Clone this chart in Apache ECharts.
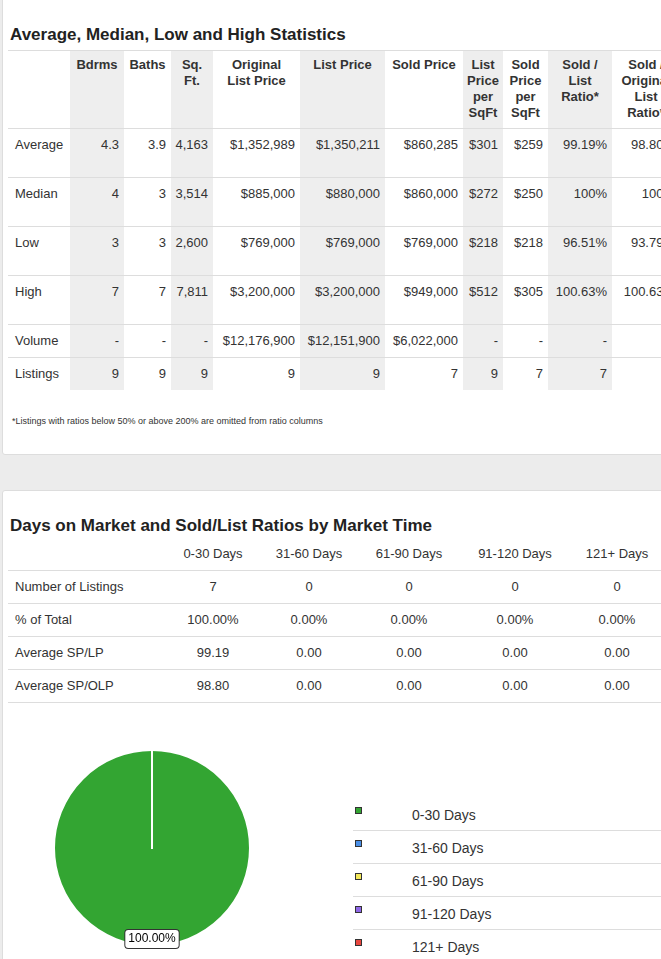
<!DOCTYPE html>
<html><head><meta charset="utf-8">
<script src="https://cdn.jsdelivr.net/npm/echarts@6/dist/echarts.min.js"></script>
<style>
html,body{margin:0;padding:0;width:661px;height:959px;overflow:hidden;background:#ececec;font-family:"Liberation Sans",Arial,sans-serif;color:#333}
.card{position:absolute;left:2px;width:680px;background:#fff;border:1px solid #ddd;border-radius:3px}
.abs{position:absolute;white-space:nowrap;font-size:13px}
.title{position:absolute;left:10px;font-size:17px;font-weight:bold;color:#222}
.hl{position:absolute;left:8px;width:680px;height:1px;background:#ddd}
.shade{position:absolute;background:#eeeeee}
.hdr{font-weight:bold;text-align:center;line-height:16px}
</style></head><body>
<div class="card" style="top:-4px;height:457px"></div>
<div class="card" style="top:490px;height:480px"></div>
<div id="t1"></div>
<div id="t2"></div>
<div id="pie" style="position:absolute;left:0;top:730px;width:310px;height:229px"></div>
<div id="leg"></div>
<script>
const statCols=["Bdrms","Baths","Sq.<br>Ft.","Original<br>List Price","List Price","Sold Price","List<br>Price<br>per<br>SqFt","Sold<br>Price<br>per<br>SqFt","Sold /<br>List<br>Ratio*","Sold /<br>Original<br>List<br>Ratio*"];
const statRows=["Average","Median","Low","High","Volume","Listings"];
const statAverage=["4.3","3.9","4,163","$1,352,989","$1,350,211","$860,285","$301","$259","99.19%","98.80%"];
const statMedian=["4","3","3,514","$885,000","$880,000","$860,000","$272","$250","100%","100%"];
const statLow=["3","3","2,600","$769,000","$769,000","$769,000","$218","$218","96.51%","93.79%"];
const statHigh=["7","7","7,811","$3,200,000","$3,200,000","$949,000","$512","$305","100.63%","100.63%"];
const statVolume=["-","-","-","$12,176,900","$12,151,900","$6,022,000","-","-","-",""];
const statListings=["9","9","9","9","9","7","9","7","7",""];
const domCats=["0-30 Days","31-60 Days","61-90 Days","91-120 Days","121+ Days"];
const domRows=["Number of Listings","% of Total","Average SP/LP","Average SP/OLP"];
const domListings=[7,0,0,0,0];
const domPct=["100.00%","0.00%","0.00%","0.00%","0.00%"];
const domSPLP=["99.19","0.00","0.00","0.00","0.00"];
const domSPOLP=["98.80","0.00","0.00","0.00","0.00"];
const pieColors=["#33a532","#4a8fe7","#f3e85a","#8f67e8","#e8473f"];

let h='';
h+='<div class="title" style="top:25px">Average, Median, Low and High Statistics</div>';
h+='<div class="hl" style="top:50px"></div>';
const edges=[70,124,171,213,300,385,463,503,548,612,680];
for(let i=0;i<10;i+=2){h+=`<div class="shade" style="left:${edges[i]}px;width:${edges[i+1]-edges[i]}px;top:51px;height:339px"></div>`;}
for(let i=0;i<10;i++){h+=`<div class="abs hdr" style="left:${edges[i]}px;width:${edges[i+1]-edges[i]}px;top:57px">${statCols[i]}</div>`;}
const rowsData=[statAverage,statMedian,statLow,statHigh,statVolume,statListings];
const rowTops=[128,177,226,275,324,357,390];
for(let r=0;r<6;r++){
 h+=`<div class="hl" style="top:${rowTops[r]}px"></div>`;
 const cy=r<4?rowTops[r]+9:(rowTops[r]+rowTops[r+1])/2-8;
 h+=`<div class="abs" style="left:15px;top:${cy}px">${statRows[r]}</div>`;
 for(let i=0;i<10;i++){h+=`<div class="abs" style="left:${edges[i]}px;width:${edges[i+1]-edges[i]-5}px;text-align:right;top:${cy}px">${rowsData[r][i]}</div>`;}
}
h+='<div class="abs" style="left:12px;top:416px;font-size:9px">*Listings with ratios below 50% or above 200% are omitted from ratio columns</div>';
document.getElementById('t1').innerHTML=h;

let g='';
g+='<div class="title" style="top:516px">Days on Market and Sold/List Ratios by Market Time</div>';
const cx=[213,309,409,515,617];
domCats.forEach((c,i)=>{g+=`<div class="abs" style="left:${cx[i]-50}px;width:100px;text-align:center;top:546px">${c}</div>`;});
const d2=[domListings,domPct,domSPLP,domSPOLP];
const tops2=[570,603,636,669,702];
for(let r=0;r<4;r++){
 g+=`<div class="hl" style="top:${tops2[r]}px"></div>`;
 g+=`<div class="abs" style="left:15px;top:${tops2[r]+9}px">${domRows[r]}</div>`;
 d2[r].forEach((v,i)=>{g+=`<div class="abs" style="left:${cx[i]-50}px;width:100px;text-align:center;top:${tops2[r]+9}px">${v}</div>`;});
}
g+=`<div class="hl" style="top:702px"></div>`;
document.getElementById('t2').innerHTML=g;

let l='';
domCats.forEach((c,i)=>{
 const y=812+i*33;
 l+=`<div style="position:absolute;left:355px;top:${y-5}px;width:5px;height:5px;background:${pieColors[i]};border:1px solid #333"></div>`;
 l+=`<div class="abs" style="left:412px;top:${y-5}px;font-size:14px">${c}</div>`;
 if(i<4) l+=`<div style="position:absolute;left:353px;top:${y+18}px;width:320px;height:1px;background:#ddd"></div>`;
});
document.getElementById('leg').innerHTML=l;

const chart=echarts.init(document.getElementById('pie'));
const pd=domCats.map((c,i)=>({name:c,value:domListings[i],itemStyle:{color:pieColors[i]}}));
chart.setOption({animation:false,series:[
 {type:'pie',center:[152,118],radius:[0,98],startAngle:90,label:{show:false},labelLine:{show:false},
  itemStyle:{borderColor:'#fff',borderWidth:2},data:pd,silent:true},
 {type:'pie',center:[152,118],radius:[78,98],startAngle:90,silent:true,
  label:{show:true,position:'inside',formatter:p=>p.value>0?p.percent.toFixed(2)+'%':'',color:'#000',fontSize:12,
   backgroundColor:'#fff',borderColor:'#333',borderWidth:1,borderRadius:3,padding:[3,3]},
  labelLine:{show:false},
  data:pd.map(d=>({name:d.name,value:d.value,itemStyle:{color:'rgba(0,0,0,0)'},label:{show:d.value>0}}))}
]});
</script></body></html>
